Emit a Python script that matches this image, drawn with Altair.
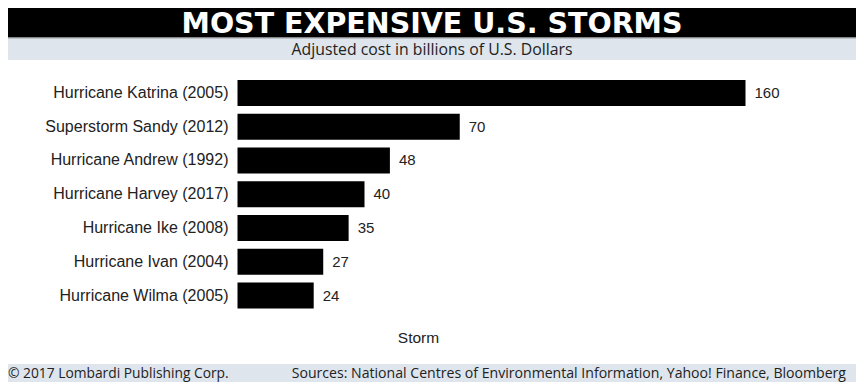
import altair as alt
import pandas as pd

storms = [
    "Hurricane Katrina (2005)",
    "Superstorm Sandy (2012)",
    "Hurricane Andrew (1992)",
    "Hurricane Harvey (2017)",
    "Hurricane Ike (2008)",
    "Hurricane Ivan (2004)",
    "Hurricane Wilma (2005)",
]
costs = [160, 70, 48, 40, 35, 27, 24]

title_text = "MOST EXPENSIVE U.S. STORMS"
subtitle_text = "Adjusted cost in billions of U.S. Dollars"
axis_title = "Storm"
footer_left = "\u00a9 2017 Lombardi Publishing Corp."
footer_right = "Sources: National Centres of Environmental Information, Yahoo! Finance, Bloomberg"

W, H = 848, 374
BAND = "#dfe5ec"
TXT = "#222222"

df = pd.DataFrame({"storm": storms, "cost": costs})
one = pd.DataFrame({"k": [0]})

x_scale = alt.Scale(domain=[0, 160], range=[229.5, 737.5], nice=False, zero=True)
y_scale = alt.Scale(domain=storms, range=[68, 304.5], paddingInner=0.23, paddingOuter=0.115)

base = alt.Chart(one)

title_band = base.mark_rect(color="black").encode(
    x=alt.value(-10), x2=alt.value(W + 10), y=alt.value(-10), y2=alt.value(29.5)
)
divider = base.mark_rule(color="#8a8f96", strokeWidth=1).encode(
    x=alt.value(-10), x2=alt.value(W + 10), y=alt.value(30)
)
sub_band = base.mark_rect(color=BAND).encode(
    x=alt.value(-10), x2=alt.value(W + 10), y=alt.value(30.5), y2=alt.value(52)
)
foot_band = base.mark_rect(color=BAND).encode(
    x=alt.value(-10), x2=alt.value(W + 10), y=alt.value(356), y2=alt.value(H + 10)
)

title = base.mark_text(
    text=title_text, font="DejaVu Sans", fontWeight="bold", fontSize=28.5,
    color="white", align="center", baseline="middle"
).encode(x=alt.value(424), y=alt.value(15.5))

subtitle = base.mark_text(
    text=subtitle_text, font="Open Sans", fontSize=15.8, color=TXT,
    align="center", baseline="middle"
).encode(x=alt.value(424), y=alt.value(41.5))

storm_label = base.mark_text(
    text=axis_title, font="Liberation Sans", fontSize=15.5, color=TXT,
    align="center", baseline="middle"
).encode(x=alt.value(410.5), y=alt.value(330))

f_left = base.mark_text(
    text=footer_left, font="Open Sans", fontSize=13.8, color=TXT,
    align="left", baseline="middle"
).encode(x=alt.value(0), y=alt.value(365.5))

f_right = base.mark_text(
    text=footer_right, font="Open Sans", fontSize=14.1, color=TXT,
    align="right", baseline="middle"
).encode(x=alt.value(838), y=alt.value(365.5))

bars_base = alt.Chart(df)
bars = bars_base.mark_bar(color="black").encode(
    x=alt.X("cost:Q", scale=x_scale, axis=None),
    y=alt.Y("storm:N", scale=y_scale, sort=storms, axis=None),
)
values = bars_base.mark_text(
    font="Liberation Sans", fontSize=15, color=TXT, align="left", baseline="middle", dx=9
).encode(
    x=alt.X("cost:Q", scale=x_scale, axis=None),
    y=alt.Y("storm:N", scale=y_scale, sort=storms, axis=None),
    text="cost:Q",
)
names = bars_base.mark_text(
    font="Liberation Sans", fontSize=16, color=TXT, align="right", baseline="middle"
).encode(
    x=alt.value(220.5),
    y=alt.Y("storm:N", scale=y_scale, sort=storms, axis=None),
    text="storm:N",
)

chart = alt.layer(
    title_band, sub_band, divider, foot_band, title, subtitle, storm_label,
    f_left, f_right, bars, values, names
).properties(
    width=W, height=H, autosize=alt.AutoSizeParams(type="none"), padding=0,
    background="white"
).configure_view(stroke=None)

chart.save("out.html", embed_options={"renderer": "svg", "actions": False})
